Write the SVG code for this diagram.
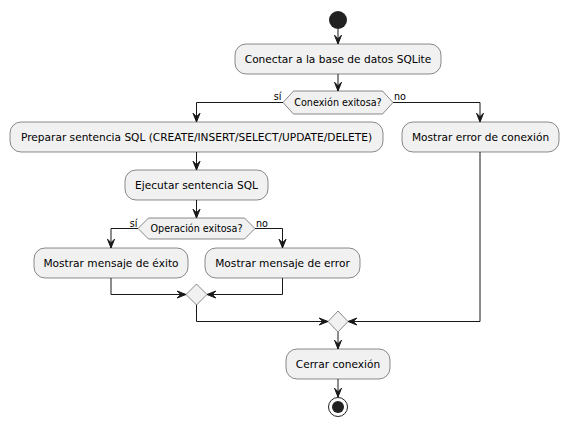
<svg xmlns="http://www.w3.org/2000/svg" width="567" height="426" viewBox="0 0 567 426">
<style>
.box{fill:#F1F1F1;stroke:#181818;stroke-width:0.5}
.t{font-family:"DejaVu Sans",sans-serif;font-size:10.6px;fill:#000;text-anchor:middle}
.d{font-family:"DejaVu Sans",sans-serif;font-size:9.6px;fill:#000;text-anchor:middle}
.l{font-family:"DejaVu Sans",sans-serif;font-size:9.6px;fill:#000}
.c{fill:none;stroke:#181818;stroke-width:1}
</style>
<defs>
<marker id="a" viewBox="-10 -5 11 10" refX="0" refY="0" markerWidth="11" markerHeight="10" markerUnits="userSpaceOnUse" orient="auto" overflow="visible">
<polygon points="-8.8,-3.5 0,0 -8.8,3.5 -5.3,0" fill="#181818" stroke="#181818" stroke-width="1" stroke-linejoin="miter"/>
</marker>
</defs>
<rect width="567" height="426" fill="#FFFFFF"/>
<g id="connectors">
<path class="c" d="M338,29 L338,44" marker-end="url(#a)"/>
<path class="c" d="M338,74 L338,91" marker-end="url(#a)"/>
<path class="c" d="M283,102.5 L196.5,102.5 L196.5,122" marker-end="url(#a)"/>
<path class="c" d="M393,102.5 L480,102.5 L480,122" marker-end="url(#a)"/>
<path class="c" d="M196.5,152 L196.5,170" marker-end="url(#a)"/>
<path class="c" d="M196.5,200 L196.5,218" marker-end="url(#a)"/>
<path class="c" d="M138,228.5 L111,228.5 L111,248" marker-end="url(#a)"/>
<path class="c" d="M255,228.5 L282.5,228.5 L282.5,248" marker-end="url(#a)"/>
<path class="c" d="M111,278 L111,294.5 L186,294.5" marker-end="url(#a)"/>
<path class="c" d="M282.5,278 L282.5,294.5 L207,294.5" marker-end="url(#a)"/>
<path class="c" d="M196.5,305 L196.5,321.5 L328,321.5" marker-end="url(#a)"/>
<path class="c" d="M480,152 L480,321.5 L348,321.5" marker-end="url(#a)"/>
<path class="c" d="M338,332 L338,349" marker-end="url(#a)"/>
<path class="c" d="M338,379 L338,397" marker-end="url(#a)"/>
<text class="l" x="281.5" y="100" text-anchor="end">sí</text>
<text class="l" x="394" y="100">no</text>
<text class="l" x="137.5" y="226.5" text-anchor="end">sí</text>
<text class="l" x="256" y="226.5">no</text>
</g>
<g id="start"><circle cx="338" cy="20" r="9" fill="#222222"/></g>
<g id="conectar">
<rect class="box" x="235" y="44" width="206" height="30" rx="11"/>
<text class="t" x="338" y="63">Conectar a la base de datos SQLite</text>
</g>
<g id="dec1">
<polygon class="box" points="283,102.5 293.5,91 382.5,91 393,102.5 382.5,114 293.5,114"/>
<text class="d" x="338" y="106">Conexión exitosa?</text>
</g>
<g id="preparar">
<rect class="box" x="10" y="122" width="373" height="30" rx="11"/>
<text class="t" x="196.5" y="141">Preparar sentencia SQL (CREATE/INSERT/SELECT/UPDATE/DELETE)</text>
</g>
<g id="errconex">
<rect class="box" x="402" y="122" width="157" height="30" rx="11"/>
<text class="t" x="480.5" y="141">Mostrar error de conexión</text>
</g>
<g id="ejecutar">
<rect class="box" x="125" y="170" width="143" height="30" rx="11"/>
<text class="t" x="196.5" y="189">Ejecutar sentencia SQL</text>
</g>
<g id="dec2">
<polygon class="box" points="138,228.5 148.5,218 244.5,218 255,228.5 244.5,239 148.5,239"/>
<text class="d" x="196.5" y="232">Operación exitosa?</text>
</g>
<g id="exito">
<rect class="box" x="34" y="248" width="154" height="30" rx="11"/>
<text class="t" x="111" y="267">Mostrar mensaje de éxito</text>
</g>
<g id="error">
<rect class="box" x="205" y="248" width="155" height="30" rx="11"/>
<text class="t" x="282.5" y="267">Mostrar mensaje de error</text>
</g>
<g id="merge1"><polygon class="box" points="196.5,284 207,294.5 196.5,305 186,294.5"/></g>
<g id="merge2"><polygon class="box" points="338,311 348,321.5 338,332 328,321.5"/></g>
<g id="cerrar">
<rect class="box" x="286" y="349" width="104" height="30" rx="11"/>
<text class="t" x="338" y="368">Cerrar conexión</text>
</g>
<g id="end">
<circle cx="338" cy="407" r="9.5" fill="none" stroke="#222222" stroke-width="1"/>
<circle cx="338" cy="407" r="6" fill="#222222"/>
</g>
</svg>
